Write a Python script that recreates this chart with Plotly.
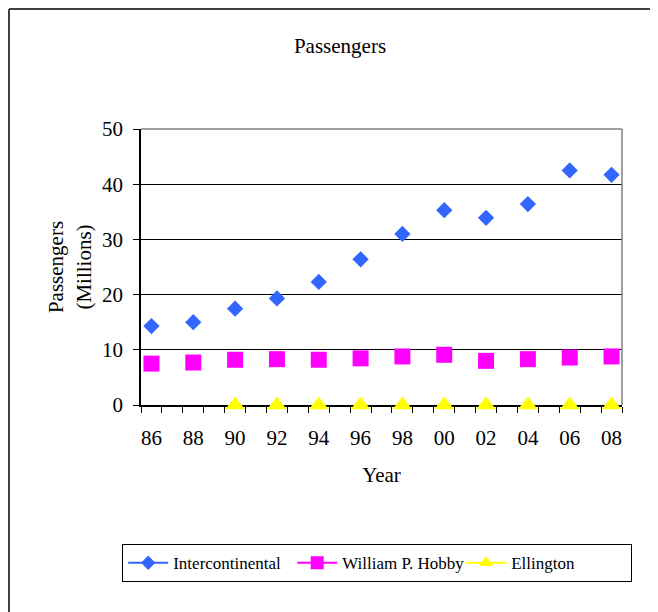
import plotly.graph_objects as go

years = list(range(1986, 2009))
tick_years = [1986, 1988, 1990, 1992, 1994, 1996, 1998, 2000, 2002, 2004, 2006, 2008]
tick_labels = ["86", "88", "90", "92", "94", "96", "98", "00", "02", "04", "06", "08"]

intercontinental = [14.3, 15.0, 17.45, 19.3, 22.3, 26.4, 31.0, 35.3, 33.9, 36.4, 42.5, 41.7]
hobby = [7.5, 7.7, 8.2, 8.3, 8.2, 8.45, 8.8, 9.1, 8.0, 8.3, 8.6, 8.8]
ellington_years = [1990, 1992, 1994, 1996, 1998, 2000, 2002, 2004, 2006, 2008]
ellington = [0, 0, 0, 0, 0, 0, 0, 0, 0, 0]

series_names = ["Intercontinental", "William P. Hobby", "Ellington"]
colors = ["#3366FF", "#FF00FF", "#FFFF00"]
symbols = ["diamond", "square", "triangle-up"]

OFF = 8  # page offset of the rendered figure
W, H = 658 - OFF, 612 - OFF
L, R, T, B = 141 - OFF, 622 - OFF, 129 - OFF, 405 - OFF
pw, ph = R - L, B - T

def px(x):
    return (x - OFF - L) / pw

def py(y):
    return (B - (y - OFF)) / ph

FONT = "Liberation Serif, Times New Roman, serif"

fig = go.Figure()
data_sets = [(tick_years, intercontinental), (tick_years, hobby), (ellington_years, ellington)]
sizes = [12.5, 16, 17]
legend_sizes = [11, 13, 13]
for (xs, ys), name, c, s, sz in zip(data_sets, series_names, colors, symbols, sizes):
    fig.add_trace(go.Scatter(
        x=xs, y=ys, mode="markers", name=name, showlegend=False,
        marker=dict(color=c, symbol=s, size=sz, line=dict(width=0)),
        cliponaxis=False,
    ))
for name, c, s, sz in zip(series_names, colors, symbols, legend_sizes):
    fig.add_trace(go.Scatter(
        x=[None], y=[None], mode="lines+markers", name=name,
        line=dict(color=c, width=2),
        marker=dict(color=c, symbol=s, size=sz),
    ))

fig.update_layout(
    width=W, height=H,
    margin=dict(l=L, r=W - R, t=T, b=H - B, pad=0),
    paper_bgcolor="white", plot_bgcolor="white",
    font=dict(family=FONT, size=21, color="black"),
    title=dict(text="Passengers", x=(340 - OFF) / W, xanchor="center", y=1 - (46 - OFF) / H, yanchor="middle",
               font=dict(family=FONT, size=21, color="black")),
    xaxis=dict(
        range=[1985.5, 2008.5], tickmode="array", tickvals=tick_years, ticktext=tick_labels,
        ticks="", showgrid=False, zeroline=False,
        showline=True, linecolor="black", linewidth=1.5, layer="below traces",
        ticklabelstandoff=13,
        minor=dict(ticks="outside", tick0=1985.5, dtick=1, ticklen=6, tickcolor="black", tickwidth=1.2, showgrid=False),
        title=dict(text="Year", standoff=18, font=dict(size=21)),
        fixedrange=True,
    ),
    yaxis=dict(
        range=[0, 50], tickmode="array", tickvals=[0, 10, 20, 30, 40, 50],
        ticks="outside", ticklen=6, tickcolor="black", tickwidth=1.2,
        showgrid=True, gridcolor="black", gridwidth=1, zeroline=False,
        showline=True, linecolor="black", linewidth=1.5, layer="below traces",
        ticklabelstandoff=6,
        title=dict(text="Passengers<br>(Millions)", standoff=5, font=dict(size=21)),
        fixedrange=True,
    ),
    legend=dict(
        orientation="h", x=px(122), xanchor="left", y=py(563), yanchor="middle",
        bordercolor="black", borderwidth=1.2, bgcolor="white",
        font=dict(family=FONT, size=17, color="black"),
        itemwidth=40, entrywidth=114,
    ),
    shapes=[
        dict(type="line", xref="paper", yref="paper", x0=0, x1=1, y0=1, y1=1,
             line=dict(color="#808080", width=1.5)),
        dict(type="line", xref="paper", yref="paper", x0=1, x1=1, y0=0, y1=1,
             line=dict(color="#808080", width=1.5)),
        dict(type="line", xref="paper", yref="paper", x0=px(OFF + 1), x1=px(700), y0=py(OFF + 1), y1=py(OFF + 1),
             line=dict(color="black", width=1.5)),
        dict(type="line", xref="paper", yref="paper", x0=px(OFF + 1), x1=px(OFF + 1), y0=py(OFF + 1), y1=py(700),
             line=dict(color="#404040", width=2)),
    ],
)

fig.write_html("out.html")
